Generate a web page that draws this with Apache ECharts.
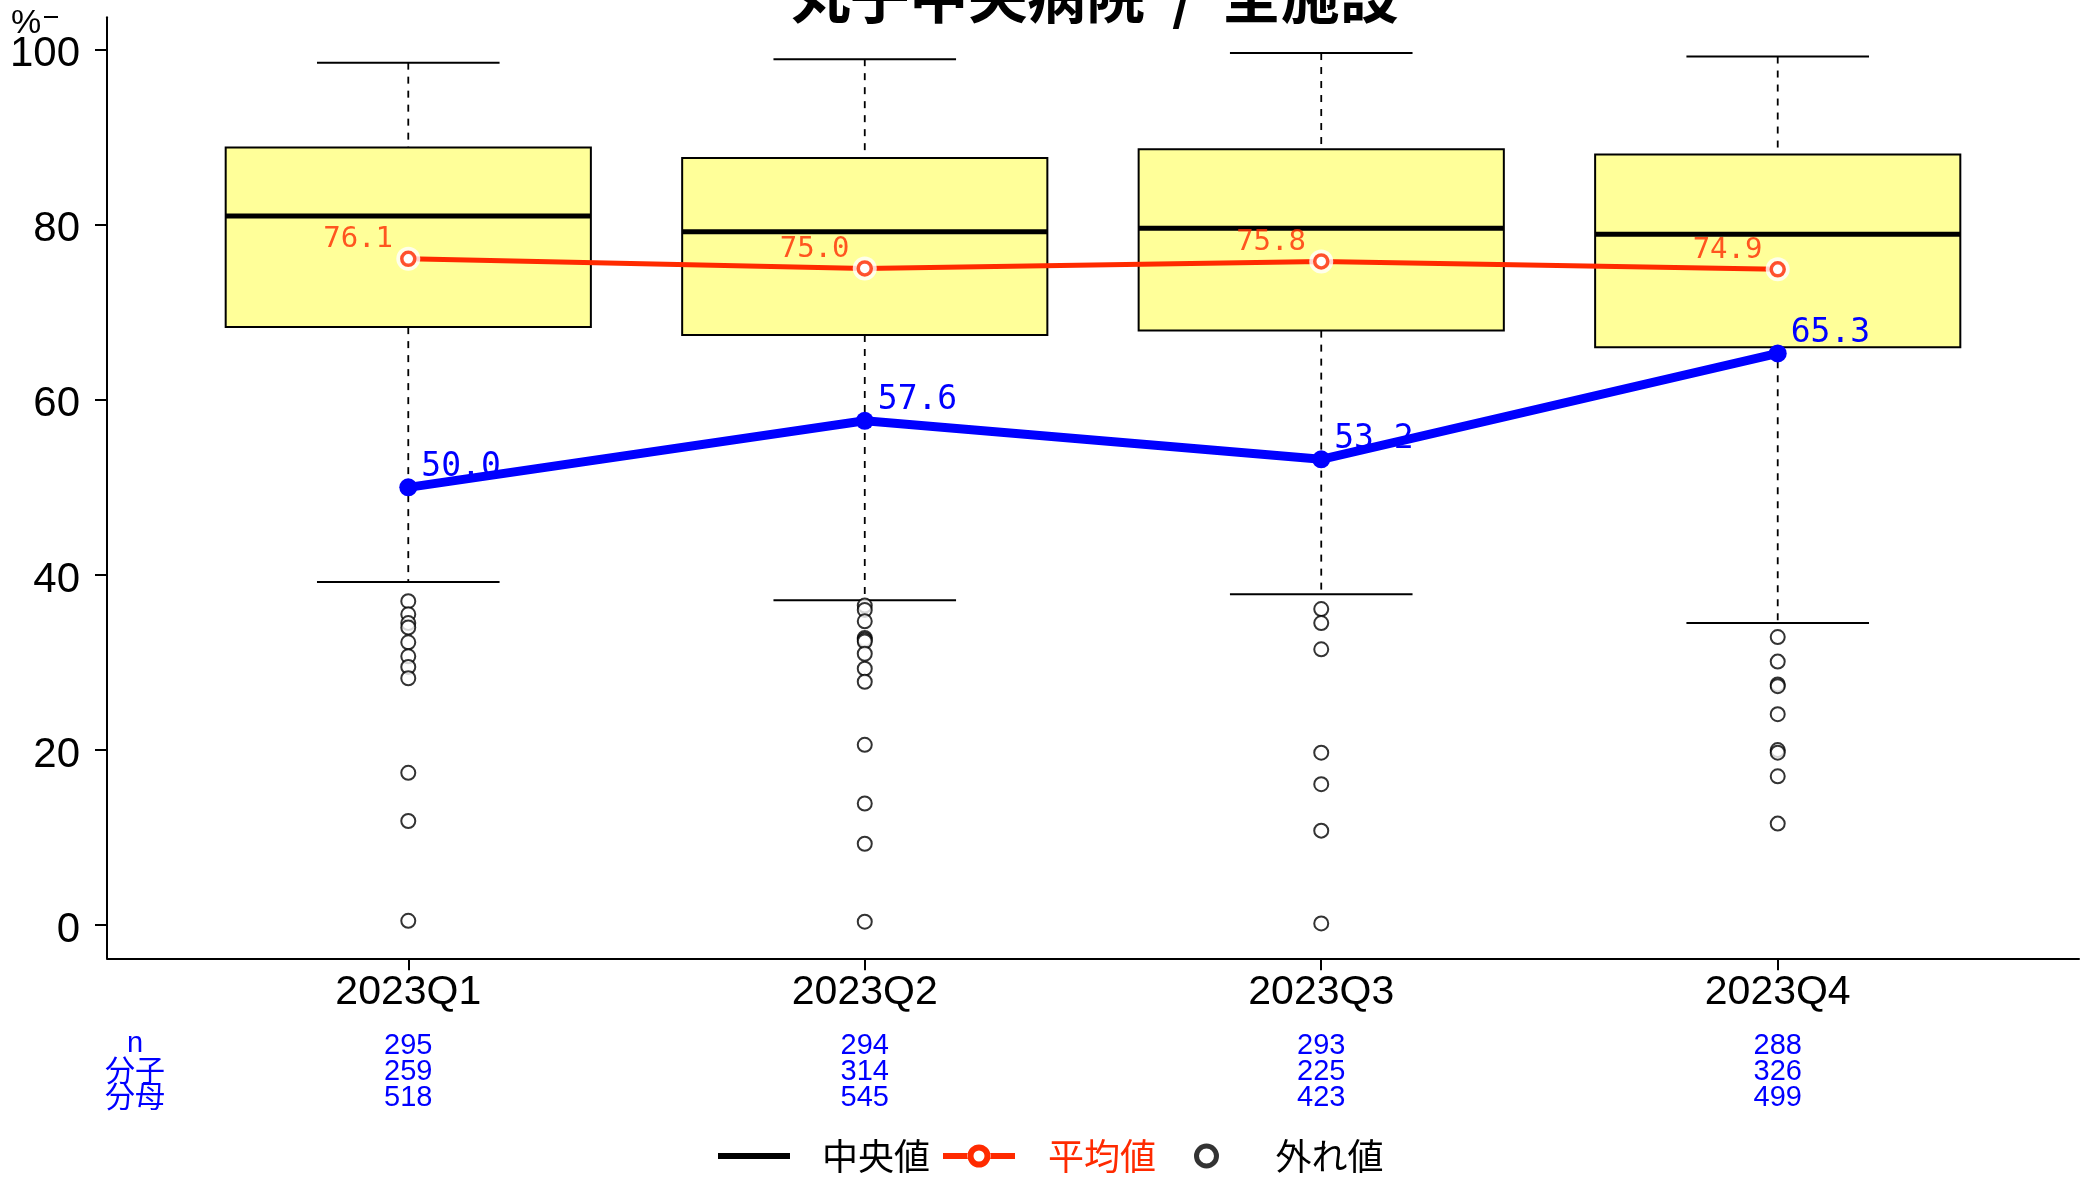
<!DOCTYPE html>
<html><head><meta charset="utf-8">
<script src="https://cdn.jsdelivr.net/npm/echarts@6/dist/echarts.min.js"></script>
<style>html,body{margin:0;padding:0;background:#fff}#c{width:2093px;height:1180px}</style>
</head><body><div id="c"></div>
<script>
const chartTitle = '丸子中央病院  /  全施設';
const categories = ['2023Q1', '2023Q2', '2023Q3', '2023Q4'];
const whiskerLow = [39.2, 37.1, 37.8, 34.5];
const boxQ1 = [68.3, 67.4, 67.9, 66.0];
const medians = [81.0, 79.2, 79.6, 78.9];
const boxQ3 = [88.8, 87.6, 88.6, 88.0];
const whiskerHigh = [98.5, 98.9, 99.6, 99.2];
const means = [76.1, 75.0, 75.8, 74.9];
const hospital = [50.0, 57.6, 53.2, 65.3];
const outliersQ1 = [37.0, 35.5, 34.5, 34.0, 32.3, 30.7, 29.5, 28.2, 17.4, 11.9, 0.5];
const outliersQ2 = [36.5, 36.0, 34.7, 32.8, 32.6, 32.4, 31.0, 29.3, 27.8, 20.6, 13.9, 9.3, 0.4];
const outliersQ3 = [36.1, 34.5, 31.5, 19.7, 16.1, 10.8, 0.2];
const outliersQ4 = [32.9, 30.1, 27.5, 27.3, 24.1, 20.0, 19.7, 17.0, 11.6];
const nCounts = [295, 294, 293, 288];
const numerators = [259, 314, 225, 326];
const denominators = [518, 545, 423, 499];
const tableHeaders = ['n', '分子', '分母'];
const yTicks = [0, 20, 40, 60, 80, 100];
const legendNames = ['中央値', '平均値', '外れ値'];

const RED = '#FF2A00', BLUE = '#0000FF';
const SANS = '"Liberation Sans", Arial, sans-serif';
const MONO = '"DejaVu Sans Mono", monospace';
const CJK = '"Noto Sans CJK JP", sans-serif';
const MEAN_ICON = 'path://M0,9 L25,9 L25,15 L0,15 Z M47,9 L72,9 L72,15 L47,15 Z ' +
  'M24.5,12 A11.5,11.5 0 1,0 47.5,12 A11.5,11.5 0 1,0 24.5,12 Z ' +
  'M30.5,12 A5.5,5.5 0 1,1 41.5,12 A5.5,5.5 0 1,1 30.5,12 Z';

const xs = categories.map((c, i) => i + 1);
const boxData = xs.map((x, i) => [x, whiskerLow[i], boxQ1[i], medians[i], boxQ3[i], whiskerHigh[i]]);
const outlierSets = [outliersQ1, outliersQ2, outliersQ3, outliersQ4];
const outlierData = [];
outlierSets.forEach((arr, i) => arr.forEach(v => outlierData.push([xs[i], v])));
const meanData = xs.map((x, i) => [x, means[i]]);
const hospData = xs.map((x, i) => [x, hospital[i]]);

function renderBox(params, api) {
  const x = api.value(0);
  const pLow = api.coord([x, api.value(1)]);
  const pQ1 = api.coord([x, api.value(2)]);
  const pMed = api.coord([x, api.value(3)]);
  const pQ3 = api.coord([x, api.value(4)]);
  const pHigh = api.coord([x, api.value(5)]);
  const boxW = api.size([0.8, 0])[0];
  const capW = api.size([0.4, 0])[0];
  const cx = pMed[0];
  const dash = {stroke: '#000', lineWidth: 1.8, lineDash: [7, 7]};
  const solid = {stroke: '#000', lineWidth: 2};
  return {
    type: 'group',
    children: [
      {type: 'line', shape: {x1: cx, y1: pHigh[1], x2: cx, y2: pQ3[1]}, style: dash},
      {type: 'line', shape: {x1: cx, y1: pQ1[1], x2: cx, y2: pLow[1]}, style: dash},
      {type: 'line', shape: {x1: cx - capW / 2, y1: pHigh[1], x2: cx + capW / 2, y2: pHigh[1]}, style: solid},
      {type: 'line', shape: {x1: cx - capW / 2, y1: pLow[1], x2: cx + capW / 2, y2: pLow[1]}, style: solid},
      {type: 'rect', shape: {x: cx - boxW / 2, y: pQ3[1], width: boxW, height: pQ1[1] - pQ3[1]},
        style: {fill: '#FFFF99', stroke: '#000', lineWidth: 2}},
      {type: 'line', shape: {x1: cx - boxW / 2, y1: pMed[1], x2: cx + boxW / 2, y2: pMed[1]},
        style: {stroke: '#000', lineWidth: 5}}
    ]
  };
}

const chart = echarts.init(document.getElementById('c'), null, {renderer: 'canvas'});
chart.setOption({
  animation: false,
  backgroundColor: '#fff',
  grid: {left: 107, right: 14, top: 17.3, bottom: 221.7, containLabel: false, outerBoundsMode: 'none'},
  xAxis: [{
    type: 'value', min: 0.34, max: 4.66,
    axisLine: {show: true, onZero: false, lineStyle: {color: '#000', width: 2}},
    axisTick: {show: true, customValues: xs, length: 12, lineStyle: {color: '#000', width: 2}},
    axisLabel: {customValues: xs, formatter: v => categories[Math.round(v) - 1], margin: 14,
      fontFamily: SANS, fontSize: 41, color: '#000'},
    splitLine: {show: false}
  }, {
    type: 'value', min: 0.34, max: 4.66, position: 'bottom', offset: 75,
    axisLine: {show: false}, axisTick: {show: false}, splitLine: {show: false},
    axisLabel: {customValues: xs, margin: 0, lineHeight: 26, fontFamily: SANS,
      fontSize: 29, color: BLUE,
      formatter: v => { const i = Math.round(v) - 1; return nCounts[i] + '\n' + numerators[i] + '\n' + denominators[i]; }}
  }],
  yAxis: {
    type: 'value', min: -3.78, max: 103.68,
    axisLine: {show: true, onZero: false, lineStyle: {color: '#000', width: 2}},
    axisTick: {show: true, customValues: yTicks, length: 12, lineStyle: {color: '#000', width: 2}},
    axisLabel: {customValues: yTicks, margin: 27, fontFamily: SANS, fontSize: 42, color: '#000',
      verticalAlign: 'top', lineHeight: 10},
    splitLine: {show: false}
  },
  legend: [{
    left: 718, top: 1138, padding: 0, itemWidth: 72, itemHeight: 6,
    data: [{name: legendNames[0], icon: 'rect', itemStyle: {color: '#000'}}],
    textStyle: {fontFamily: CJK, fontSize: 36, color: '#000', padding: [0, 0, 0, 27]}
  }, {
    left: 943, top: 1138, padding: 0, itemWidth: 72, itemHeight: 24,
    data: [{name: legendNames[1], icon: MEAN_ICON, itemStyle: {color: RED, borderWidth: 0}}],
    textStyle: {fontFamily: CJK, fontSize: 36, color: RED, padding: [0, 0, 0, 28]}
  }, {
    left: 1194, top: 1138, padding: 0, itemWidth: 20, itemHeight: 20,
    data: [{name: legendNames[2], icon: 'circle', itemStyle: {color: '#fff', borderColor: '#000', borderWidth: 5}}],
    textStyle: {fontFamily: CJK, fontSize: 36, color: '#000', padding: [0, 0, 0, 54]}
  }],
  graphic: [
    {type: 'text', x: 1095, y: 25, style: {text: chartTitle, textAlign: 'center', textVerticalAlign: 'bottom',
      font: 'bold 59px "Noto Sans CJK JP", sans-serif', fill: '#000'}},
    {type: 'text', x: 11, y: 41, style: {text: '%', textVerticalAlign: 'bottom',
      font: '34px "Liberation Sans", sans-serif', fill: '#000'}},
    {type: 'line', shape: {x1: 44, y1: 17, x2: 58, y2: 17}, style: {stroke: '#000', lineWidth: 2}},
    {type: 'text', x: 135, y: 1044, style: {text: tableHeaders[0], textAlign: 'center', textVerticalAlign: 'middle',
      font: '29px "Liberation Sans", sans-serif', fill: BLUE}},
    {type: 'text', x: 135, y: 1070, style: {text: tableHeaders[1], textAlign: 'center', textVerticalAlign: 'middle',
      font: '30px "Noto Sans CJK JP", sans-serif', fill: BLUE}},
    {type: 'text', x: 135, y: 1096, style: {text: tableHeaders[2], textAlign: 'center', textVerticalAlign: 'middle',
      font: '30px "Noto Sans CJK JP", sans-serif', fill: BLUE}}
  ],
  series: [
    {name: legendNames[0], type: 'custom', renderItem: renderBox, data: boxData, z: 1,
      encode: {x: 0, y: [1, 2, 3, 4, 5]}},
    {name: legendNames[2], type: 'scatter', data: outlierData, symbol: 'emptyCircle', symbolSize: 14, z: 2,
      itemStyle: {color: '#000', borderColor: '#000', borderWidth: 2.2}},
    {name: legendNames[1], type: 'line', data: meanData, z: 3, symbol: 'emptyCircle', symbolSize: 13,
      lineStyle: {color: RED, width: 5}, itemStyle: {color: RED, borderColor: RED, borderWidth: 3}},
    {name: 'gap', type: 'scatter', data: meanData, z: 4, symbol: 'circle', symbolSize: 24, silent: true,
      itemStyle: {color: '#fff', borderWidth: 0}},
    {name: 'meanRing', type: 'scatter', data: meanData, z: 5, symbol: 'circle', symbolSize: 13, silent: true,
      itemStyle: {color: '#fff', borderColor: RED, borderWidth: 3.5},
      label: {show: true, position: 'left', distance: 7, offset: [0, -19], formatter: p => p.value[1].toFixed(1),
        fontFamily: MONO, fontSize: 29, color: RED}},
    {name: '丸子中央病院', type: 'line', data: hospData, z: 6, symbol: 'circle', symbolSize: 18,
      lineStyle: {color: BLUE, width: 9}, itemStyle: {color: BLUE},
      label: {show: true, position: 'right', distance: 4, offset: [0, -20], formatter: p => p.value[1].toFixed(1),
        fontFamily: MONO, fontSize: 33, color: BLUE}}
  ]
});
</script></body></html>
